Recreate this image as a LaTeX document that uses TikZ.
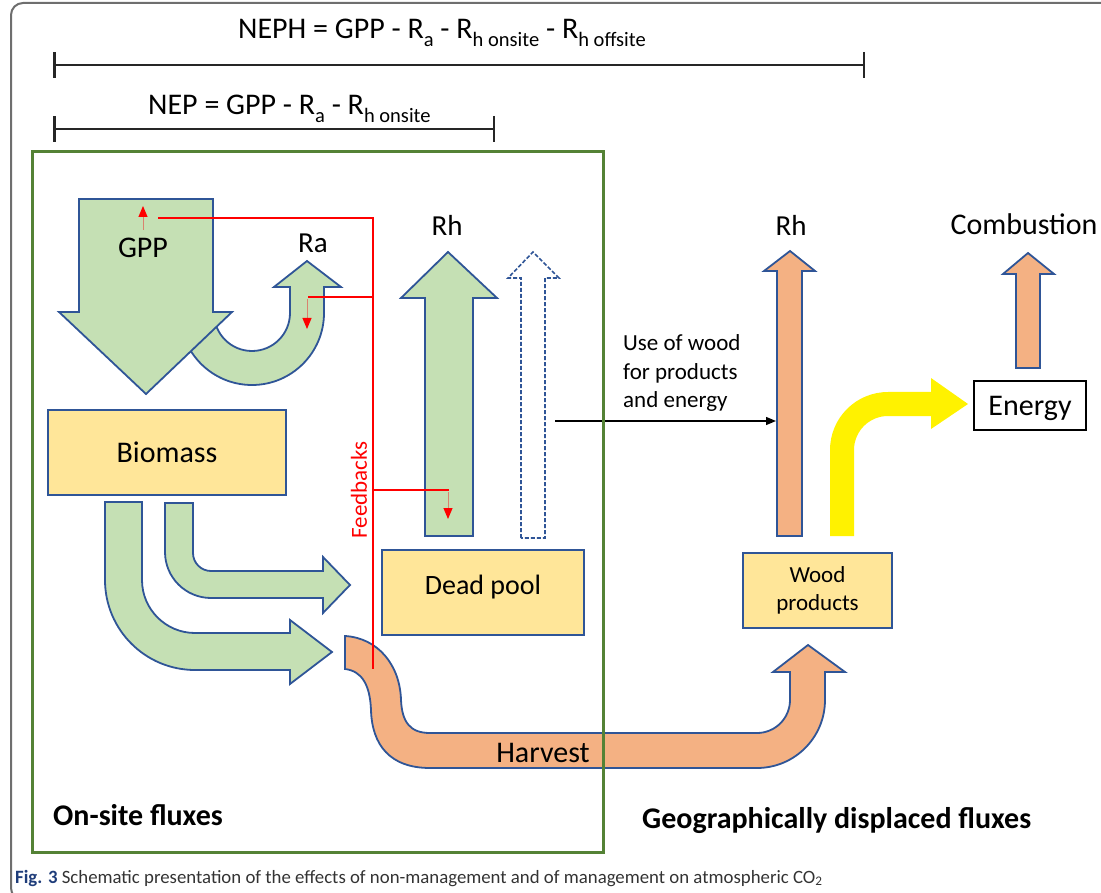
\documentclass[tikz,border=0pt]{standalone}
\usepackage{fontspec}
\setmainfont{Carlito}
\usetikzlibrary{arrows.meta}
\definecolor{gfill}{HTML}{C5E0B4}
\definecolor{bline}{HTML}{2F5597}
\definecolor{yfill}{HTML}{FFE699}
\definecolor{ofill}{HTML}{F4B183}
\definecolor{frameg}{HTML}{548235}
\definecolor{capblue}{HTML}{1F3D7A}
\definecolor{captext}{HTML}{333333}
\definecolor{fbshaft}{HTML}{D9826E}
\definecolor{bordergray}{HTML}{6E6E6E}
\newcommand\fsz[1]{\fontsize{#1}{#1}\selectfont}
\newcommand\sbx[1]{\raisebox{-7.5pt}{\fsz{20.5}#1}}
\begin{document}
\begin{tikzpicture}[x=1pt,y=-1pt,
  flow/.style={draw=bline,line width=1.8pt,line join=miter,miter limit=10},
  gflow/.style={flow,fill=gfill},
  oflow/.style={flow,fill=ofill},
  dflow/.style={draw=bline,line width=1.6pt,dash pattern=on 4pt off 2pt,fill=white},
  yflow/.style={fill=yellow,draw=none},
  pool/.style={draw=bline,line width=1.8pt,fill=yfill,inner sep=0pt},
  lbl/.style={inner sep=0pt,anchor=base},
  fb/.style={draw=red,line width=2.2pt},
  fbarrow/.style={draw=fbshaft,line width=1pt,-{Triangle[width=9pt,length=11pt,color=red]}},
  spanbar/.style={line width=2.5pt,draw=black!85,{Bar[width=26pt]}-{Bar[width=26pt]}},
  usearrow/.style={draw=black,line width=1.3pt,-{Triangle[width=8pt,length=10pt]}},
]
\useasboundingbox (0,0) rectangle (1101,893);
% outer border
\draw[bordergray,line width=2pt,rounded corners=12pt] (11,3) rectangle (1130,900);

% Ra U-arrow (behind GPP)
\path[gflow] (290,287) -- (290,313) arc[start angle=0,end angle=180,radius=38]
  -- (180,313) arc[start angle=180,end angle=0,radius=72]
  -- (324,287) -- (341,287) -- (307,261) -- (274,287) -- cycle;
% GPP arrow
\path[gflow] (79,199) -- (213,199) -- (213,312) -- (232,312) -- (146,394) -- (59,312) -- (79,312) -- cycle;

% Rh green arrow and dashed arrow
\path[gflow] (425,536) -- (425,298) -- (401,298) -- (448,252) -- (497,298) -- (473,298) -- (473,536) -- cycle;
\path[dflow] (521,538) -- (521,278) -- (508,278) -- (533,252) -- (559,278) -- (545,278) -- (545,538) -- cycle;

% boxes
\node[pool,minimum width=238pt,minimum height=85pt,font=\fsz{30},text height=19pt,text depth=0pt] (biomass) at (167,452.5) {Biomass};
\node[pool,minimum width=202pt,minimum height=85pt,font=\fsz{28},text height=19pt,text depth=16pt] (dead) at (483,592.5) {Dead pool};

% bent green arrows from biomass
\path[gflow] (165,503) -- (165,552) arc[start angle=180,end angle=90,radius=46]
  -- (323,598) -- (323,613) -- (350,585) -- (323,557) -- (323,571)
  -- (211,571) arc[start angle=90,end angle=180,radius=18] -- (193,503) -- cycle;
\path[gflow] (105,502) -- (105,580) arc[start angle=180,end angle=90,radius=90]
  -- (290,670) -- (290,684) -- (332,652) -- (290,620) -- (290,633)
  -- (195,633) arc[start angle=90,end angle=180,radius=53] -- (142,502) -- cycle;

% harvest arrow
\path[oflow] (345,636) .. controls (378,638) and (400,665) .. (401,700)
  .. controls (402,722) and (410,733) .. (430,733)
  -- (757,733) arc[start angle=90,end angle=0,radius=33]
  -- (790,672) -- (773,672) -- (808,645) -- (845,672) -- (825,672)
  -- (825,700) arc[start angle=0,end angle=90,radius=68]
  -- (430,768) .. controls (390,768) and (372,745) .. (371,710)
  .. controls (370,685) and (362,671) .. (345,669) -- cycle;

% offsite arrows
\path[oflow] (777,536) -- (777,271) -- (764,271) -- (790,251) -- (815,271) -- (802,271) -- (802,536) -- cycle;
\path[oflow] (1016,368) -- (1016,274) -- (1003,274) -- (1028,253) -- (1054,274) -- (1040,274) -- (1040,368) -- cycle;
\path[yflow] (830,536) -- (830,450) arc[start angle=180,end angle=270,radius=58]
  -- (931,392) -- (931,378) -- (968,404) -- (931,429) -- (931,416)
  -- (888,416) arc[start angle=270,end angle=180,radius=34] -- (854,536) -- cycle;

\node[draw=black,line width=2pt,fill=white,minimum width=112pt,minimum height=49pt,inner sep=0pt,font=\fsz{30},text height=19pt,text depth=0pt] (energy) at (1030,405.5) {Energy};
\node[pool,minimum width=149pt,minimum height=75pt,align=center,font=\fontsize{23}{27.5}\selectfont] (wood) at (817.5,590.5) {Wood\\products};

% use of wood arrow
\coordinate (uwS) at (555,421);
\coordinate (uwE) at (776,421);
\draw[usearrow] (uwS) -- (uwE);
\node[anchor=west,align=left,inner sep=0pt,font=\fontsize{23}{28.5}\selectfont] (usetxt) at (623,373) {Use of wood\\for products\\and energy};

% on-site frame
\draw[frameg,line width=3pt] (32,152) rectangle (603,852);

% feedback lines
\coordinate (fbA) at (158,218);
\coordinate (fbB) at (373,218);
\coordinate (fbC) at (373,669);
\coordinate (fbD) at (373,297);
\coordinate (fbD2) at (308,297);
\coordinate (fbE) at (373,490);
\coordinate (fbE2) at (449,490);
\draw[fb] (fbA) -- (fbB) -- (fbC);
\draw[fb] (fbD) -- (fbD2);
\draw[fb] (fbE) -- (fbE2);
\coordinate (g1) at (143,230); \coordinate (g2) at (143,206);
\coordinate (r1) at (307,299); \coordinate (r2) at (307,329);
\coordinate (h1) at (448,492); \coordinate (h2) at (448,519);
\draw[fbarrow] (g1) -- (g2);
\draw[fbarrow] (r1) -- (r2);
\draw[fbarrow] (h1) -- (h2);
\node[rotate=90,inner sep=0pt,text=red,font=\fsz{23}] (fbtxt) at (359,490) {Feedbacks};

% top spans
\coordinate (nephL) at (53,65); \coordinate (nephR) at (865,65);
\coordinate (nepL) at (53,129); \coordinate (nepR) at (495,129);
\draw[spanbar] (nephL) -- (nephR);
\draw[spanbar] (nepL) -- (nepR);
\node[anchor=base west,inner sep=0pt,font=\fsz{30}] (neph) at (238,39) {NEPH = GPP - R\sbx{a} - R\sbx{h onsite} - R\sbx{h offsite}};
\node[anchor=base west,inner sep=0pt,font=\fsz{30}] (nep) at (148,115) {NEP = GPP - R\sbx{a} - R\sbx{h onsite}};

% labels
\node[lbl,font=\fsz{30}] (gpp) at (143,258) {GPP};
\node[lbl,font=\fsz{29}] (ra) at (313,253) {Ra};
\node[lbl,font=\fsz{29}] (rh1) at (447,236) {Rh};
\node[lbl,font=\fsz{29}] (rh2) at (791,236) {Rh};
\node[lbl,font=\fsz{30}] (comb) at (1024,235) {Combustion};
\node[lbl,font=\fsz{30}] (harv) at (543,762) {Harvest};
\node[anchor=base west,inner sep=0pt,font=\bfseries\fsz{30}] (onsite) at (53,825) {On-site fluxes};
\node[anchor=base west,inner sep=0pt,font=\bfseries\fsz{30}] (geo) at (642,828) {Geographically displaced fluxes};
\node[anchor=base west,inner sep=0pt,font=\fsz{18.8},text=captext] (cap) at (15,883) {\textcolor{capblue}{\textbf{Fig. 3}} Schematic presentation of the effects of non-management and of management on atmospheric CO\textsubscript{2}};
\end{tikzpicture}
\end{document}
